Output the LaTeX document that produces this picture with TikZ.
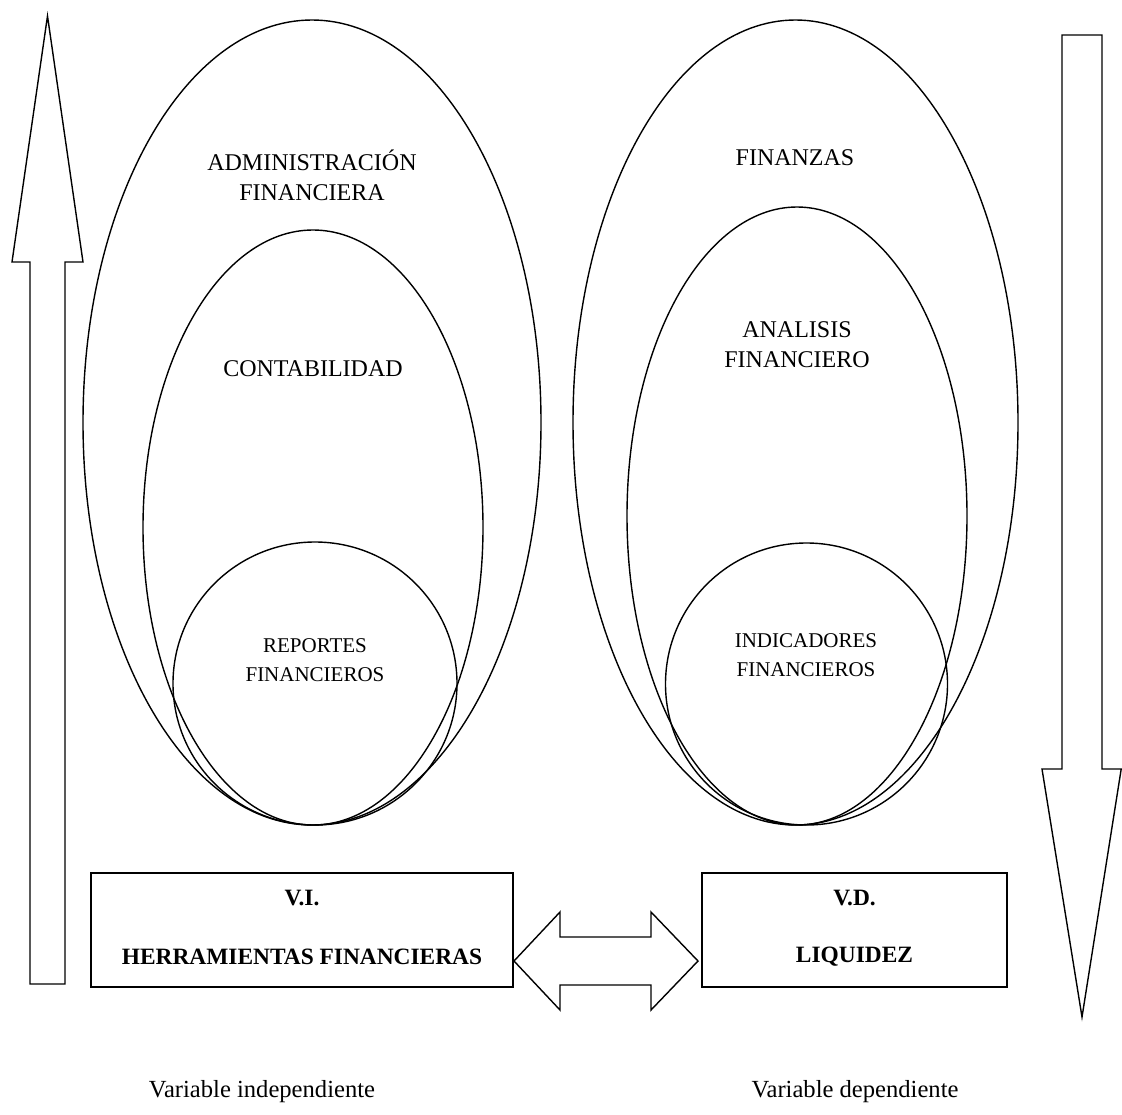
\documentclass[tikz,border=0pt]{standalone}
\usepackage{fontspec}
\setmainfont{Liberation Serif}
\usetikzlibrary{shapes.geometric}
\begin{document}
\begin{tikzpicture}[x=1pt,y=-1pt,line width=1.4pt,line join=miter,
  oval/.style={draw,ellipse,inner sep=0pt},
  lbl/.style={align=center,inner sep=0pt,font=\fontsize{21}{29}\selectfont},
  biglbl/.style={align=center,inner sep=0pt,font=\fontsize{24}{30}\selectfont},
  boxlbl/.style={inner sep=0pt,font=\fontsize{23.4}{28}\selectfont\bfseries},
  varbox/.style={draw,rectangle,inner sep=0pt},
  foot/.style={inner sep=0pt,font=\fontsize{24.6}{30}\selectfont}]
\useasboundingbox (0,0) rectangle (1122,1114);
% left group
\node[oval,minimum width=458pt,minimum height=805pt] (admin) at (312,422.5) {};
\node[oval,minimum width=340pt,minimum height=595pt] (conta) at (313,527.5) {};
\node[oval,minimum width=284pt,minimum height=283pt] (repo) at (315,683.5) {};
\node[biglbl] (tadmin) at (312,175) {ADMINISTRACIÓN\\FINANCIERA};
\node[biglbl] (tconta) at (313,369) {CONTABILIDAD};
\node[lbl] (trepo) at (315,660) {REPORTES\\FINANCIEROS};
% right group
\node[oval,minimum width=445pt,minimum height=805pt] (fin) at (795.5,422.5) {};
\node[oval,minimum width=340pt,minimum height=618pt] (anal) at (797,516) {};
\node[oval,minimum width=282pt,minimum height=282pt] (indi) at (806.5,684) {};
\node[biglbl] (tfin) at (795,158) {FINANZAS};
\node[biglbl] (tanal) at (797,345) {ANALISIS\\FINANCIERO};
\node[lbl] (tindi) at (806,655) {INDICADORES\\FINANCIEROS};
% boxes
\node[varbox,minimum width=422pt,minimum height=114pt] (vi) at (302,930) {};
\node[varbox,minimum width=305pt,minimum height=114pt] (vd) at (854.5,930) {};
\node[boxlbl] (tvi) at (302,898) {V.I.};
\node[boxlbl] (therr) at (302,957) {HERRAMIENTAS FINANCIERAS};
\node[boxlbl] (tvd) at (854.5,898) {V.D.};
\node[boxlbl] (tliq) at (854.5,957) {LIQUIDEZ};
% double arrow between boxes
\draw (514,961) -- (560,912) -- (560,937) -- (651,937) -- (651,912) -- (698,961)
  -- (651,1010) -- (651,985) -- (560,985) -- (560,1010) -- cycle;
% big up arrow
\draw (47.5,16) -- (83,262) -- (65,262) -- (65,984) -- (30,984) -- (30,262) -- (12,262) -- cycle;
% big down arrow
\draw (1062,35) -- (1102,35) -- (1102,769) -- (1121.2,769) -- (1082,1017) -- (1042,769) -- (1062,769) -- cycle;
% footers
\node[foot] (fvi) at (262,1092) {Variable independiente};
\node[foot] (fvd) at (855,1092) {Variable dependiente};
\end{tikzpicture}
\end{document}
